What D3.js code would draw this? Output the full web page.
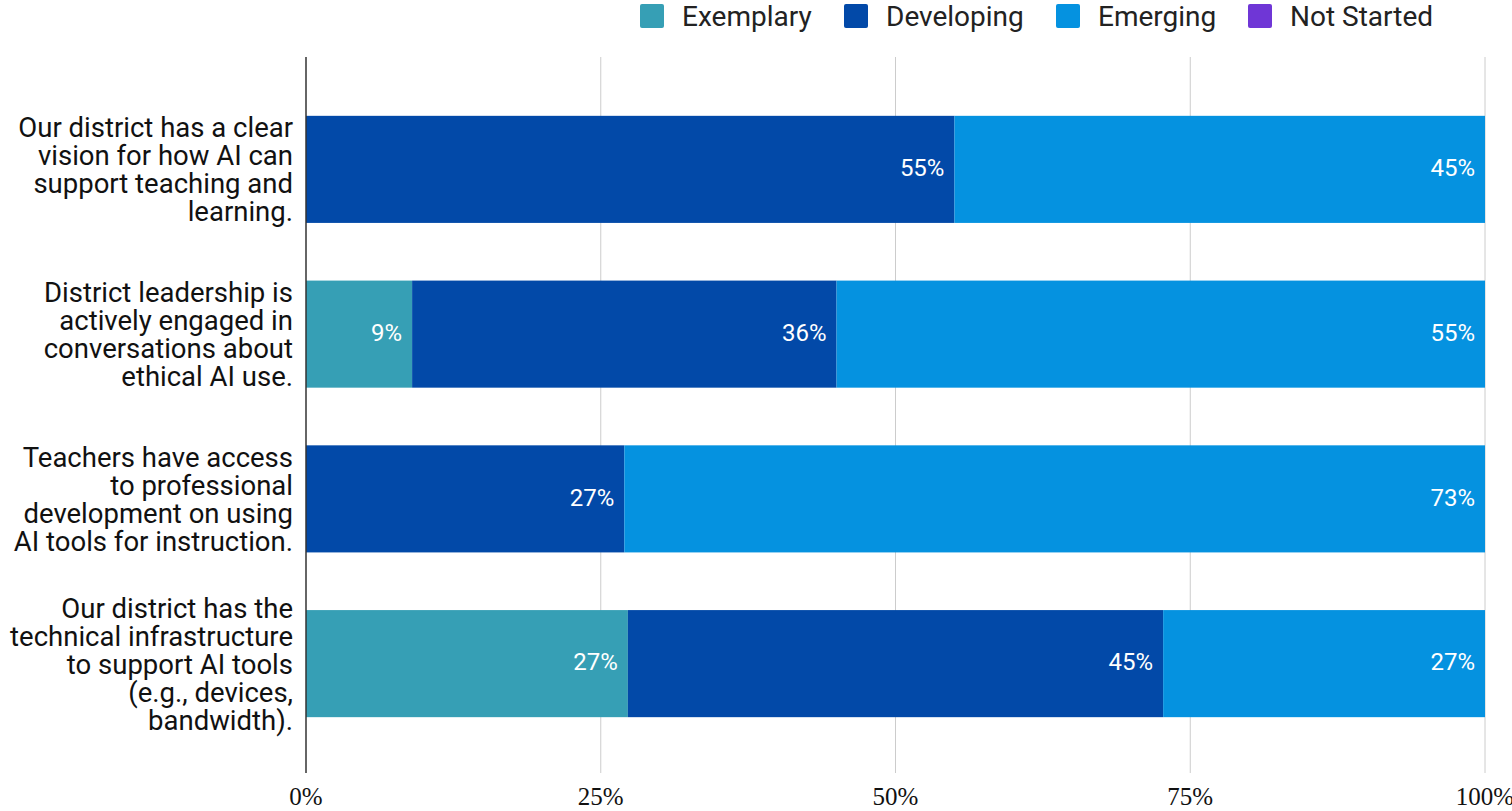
<!DOCTYPE html>
<html>
<head>
<meta charset="utf-8">
<script src="https://cdn.jsdelivr.net/npm/d3@7"></script>
<style>
  body { margin: 0; background: #fff; }
  svg { display: block; }
</style>
</head>
<body>
<div id="chart"></div>
<script>
// Chart data
const categories = [
    ["Our district has a clear", "vision for how AI can", "support teaching and", "learning."],
    ["District leadership is", "actively engaged in", "conversations about", "ethical AI use."],
    ["Teachers have access", "to professional", "development on using", "AI tools for instruction."],
    ["Our district has the", "technical infrastructure", "to support AI tools", "(e.g., devices,", "bandwidth)."]
];
const seriesNames = ["Exemplary", "Developing", "Emerging", "Not Started"];
const exemplary = [0, 9, 0, 27.3];
const developing = [55, 36, 27, 45.4];
const emerging = [45, 55, 73, 27.3];
const notStarted = [0, 0, 0, 0];
const tickValues = [0, 25, 50, 75, 100];

const colors = ["#369fb5", "#0249a8", "#0592e0", "#6f36d6"];

const width = 1512, height = 811;
const x0 = 306, x1 = 1485;

const svg = d3.select("#chart").append("svg")
    .attr("width", width)
    .attr("height", height);

const x = d3.scaleLinear().domain([0, 100]).range([x0, x1]);
const y = d3.scaleBand()
    .domain(d3.range(categories.length))
    .range([87, 746])
    .paddingInner(0.35)
    .paddingOuter(0.175);

// Gridlines
svg.append("g")
    .selectAll("line")
    .data(tickValues.slice(1))
    .join("line")
    .attr("x1", d => x(d)).attr("x2", d => x(d))
    .attr("y1", 57).attr("y2", 773)
    .attr("stroke", "#cccccc")
    .attr("stroke-width", 1);

// Stacked data
const rows = categories.map((c, i) => ({
    Exemplary: exemplary[i],
    Developing: developing[i],
    Emerging: emerging[i],
    "Not Started": notStarted[i]
}));
const stacked = d3.stack().keys(seriesNames)(rows);

stacked.forEach((layer, k) => {
    const g = svg.append("g");
    layer.forEach((seg, i) => {
        const v = seg[1] - seg[0];
        if (v <= 0) return;
        g.append("rect")
            .attr("x", x(seg[0]))
            .attr("y", y(i))
            .attr("width", x(seg[1]) - x(seg[0]))
            .attr("height", y.bandwidth())
            .attr("fill", colors[k]);
        g.append("text")
            .attr("x", x(seg[1]) - 10)
            .attr("y", y(i) + y.bandwidth() / 2 - 2)
            .attr("dy", "0.36em")
            .attr("text-anchor", "end")
            .attr("font-family", "Roboto")
            .attr("font-size", 24)
            .attr("fill", "#fff")
            .text(Math.round(v) + "%");
    });
});

// Left axis line
svg.append("line")
    .attr("x1", x0).attr("x2", x0)
    .attr("y1", 57).attr("y2", 773)
    .attr("stroke", "#333")
    .attr("stroke-width", 1.5);

// Category labels
categories.forEach((lines, i) => {
    const lh = 28;
    const cy = y(i) + y.bandwidth() / 2;
    const t = svg.append("text")
        .attr("text-anchor", "end")
        .attr("font-family", "Roboto")
        .attr("font-size", 27.5)
        .attr("fill", "#111");
    lines.forEach((ln, j) => {
        t.append("tspan")
            .attr("x", 293)
            .attr("y", cy + (j - (lines.length - 1) / 2) * lh)
            .attr("dy", "0.36em")
            .text(ln);
    });
});

// X tick labels
svg.append("g")
    .selectAll("text")
    .data(tickValues)
    .join("text")
    .attr("x", d => x(d))
    .attr("y", 805)
    .attr("text-anchor", "middle")
    .attr("font-family", "Liberation Serif")
    .attr("font-size", 25)
    .attr("fill", "#111")
    .text(d => d + "%");

// Legend
const legendX = [640, 844, 1056, 1248];
const legend = svg.append("g");
seriesNames.forEach((name, k) => {
    legend.append("rect")
        .attr("x", legendX[k]).attr("y", 4)
        .attr("width", 24).attr("height", 24)
        .attr("rx", 2)
        .attr("fill", colors[k]);
    legend.append("text")
        .attr("x", legendX[k] + 42)
        .attr("y", 16)
        .attr("dy", "0.36em")
        .attr("font-family", "Roboto")
        .attr("font-size", 28)
        .attr("fill", "#222")
        .text(name);
});
</script>
</body>
</html>
